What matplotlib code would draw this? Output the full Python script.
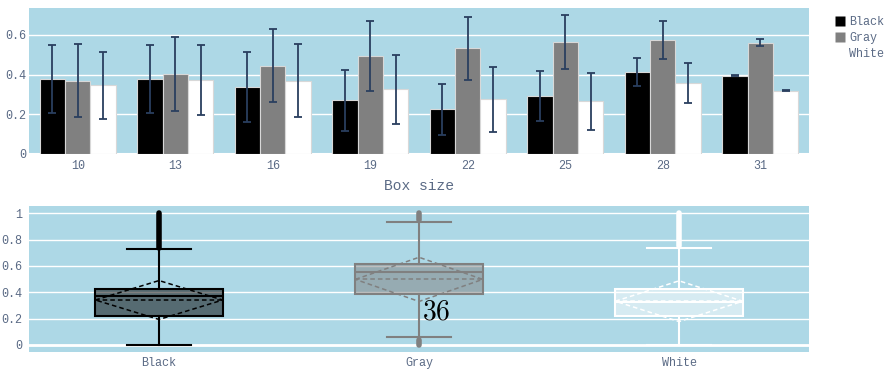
import matplotlib
matplotlib.use("Agg")
import matplotlib.pyplot as plt
from matplotlib.lines import Line2D
import numpy as np

plt.rcParams['font.family'] = ['Liberation Mono', 'DejaVu Sans']
plt.rcParams['mathtext.fontset'] = 'cm'

# mean score per box size (top panel)
box_sizes = ['10', '13', '16', '19', '22', '25', '28', '31']
black_mean = [0.378, 0.378, 0.336, 0.270, 0.225, 0.291, 0.413, 0.395]
gray_mean = [0.369, 0.403, 0.445, 0.492, 0.532, 0.564, 0.574, 0.561]
white_mean = [0.346, 0.373, 0.369, 0.326, 0.275, 0.265, 0.359, 0.319]
black_err = [0.172, 0.170, 0.175, 0.155, 0.127, 0.126, 0.070, 0.004]
gray_err = [0.184, 0.186, 0.184, 0.175, 0.160, 0.134, 0.095, 0.016]
white_err = [0.168, 0.178, 0.185, 0.174, 0.165, 0.145, 0.100, 0.003]

# distribution summary per colour (bottom panel)
colours = ['Black', 'Gray', 'White']
q1 = [0.220, 0.390, 0.220]
median = [0.370, 0.555, 0.327]
q3 = [0.426, 0.613, 0.428]
whisker_lo = [0.0, 0.063, 0.0]
whisker_hi = [0.729, 0.937, 0.739]
mean = [0.341, 0.498, 0.332]
sd = [0.148, 0.168, 0.155]
# ranges covered by the (dense) outlier points
outlier_ranges = [[(0.74, 1.0)], [(0.95, 1.0), (0.0, 0.04)], [(0.75, 1.0)]]

BG = '#add8e6'
TXT = '#5a6a85'
ERR = '#2a3f5f'
bar_colors = ['black', 'gray', 'white']

fig = plt.figure(figsize=(8.93, 3.70), dpi=100)
ax1 = fig.add_axes([0.0325, 0.5838, 0.8735, 0.3946])
ax2 = fig.add_axes([0.0325, 0.0495, 0.8735, 0.3937])

for ax in (ax1, ax2):
    ax.set_facecolor(BG)
    for s in ax.spines.values():
        s.set_visible(False)
    ax.tick_params(length=0, labelsize=8.5, labelcolor=TXT)
    ax.grid(axis='y', color='white', linewidth=1)
    ax.set_axisbelow(True)

# --- top: grouped bars with error bars
x = np.arange(len(box_sizes))
w = 0.26
series = [(black_mean, black_err), (gray_mean, gray_err), (white_mean, white_err)]
for i, (vals, errs) in enumerate(series):
    ax1.bar(x + (i - 1) * w, vals, w, color=bar_colors[i], edgecolor='#d8d8d8',
            linewidth=0.8, zorder=2)
    ax1.errorbar(x + (i - 1) * w, vals, yerr=errs, fmt='none', ecolor=ERR,
                 elinewidth=1.3, capsize=3, capthick=1.3, zorder=3)
ax1.set_xlim(-0.5, len(box_sizes) - 0.5)
ax1.set_ylim(0, 0.735)
ax1.set_xticks(x)
ax1.set_xticklabels(box_sizes)
ax1.set_yticks([0, 0.2, 0.4, 0.6])
ax1.set_yticklabels(['0', '0.2', '0.4', '0.6'])
ax1.tick_params(axis='x', pad=4)
ax1.tick_params(axis='y', pad=2)
ax1.axhline(0, color='white', linewidth=1.5, zorder=1)
fig.text(0.469, 1 - 186 / 370, 'Box size', ha='center', va='center',
         fontsize=10.5, color=TXT)

handles = [Line2D([], [], marker='s', linestyle='none', markersize=7,
                  markerfacecolor=c, markeredgecolor='none') for c in bar_colors]
fig.legend(handles, colours, loc='upper left', bbox_to_anchor=(0.922, 0.985),
           frameon=False, fontsize=8.5, labelcolor=TXT, handletextpad=0.3,
           labelspacing=0.35, handlelength=1.0)

# --- bottom: box plots with mean and sd diamond
bw = 0.49
for i, c in enumerate(bar_colors):
    stats = [dict(q1=q1[i], med=median[i], q3=q3[i], whislo=whisker_lo[i],
                  whishi=whisker_hi[i], fliers=[], mean=mean[i])]
    ax2.bxp(stats, positions=[i], widths=bw, patch_artist=True,
            showfliers=False, manage_ticks=False,
            boxprops=dict(facecolor=matplotlib.colors.to_rgba(c, 0.5),
                          edgecolor=c, linewidth=1.5),
            medianprops=dict(color=c, linewidth=1.5),
            whiskerprops=dict(color=c, linewidth=1.5),
            capprops=dict(color=c, linewidth=1.5), capwidths=bw / 2)
    m, s = mean[i], sd[i]
    ax2.plot([i - bw / 2, i, i + bw / 2, i, i - bw / 2], [m, m + s, m, m - s, m],
             color=c, linestyle=(0, (3, 2)), linewidth=1.1, zorder=4)
    ax2.plot([i - bw / 2, i + bw / 2], [m, m], color=c,
             linestyle=(0, (3, 2)), linewidth=1.1, zorder=4)
    for lo, hi in outlier_ranges[i]:
        ax2.plot([i, i], [lo, hi], color=c, linewidth=4, solid_capstyle='round',
                 zorder=4)

ax2.set_xlim(-0.5, 2.5)
ax2.set_ylim(-0.052, 1.056)
ax2.set_xticks(range(len(colours)))
ax2.set_xticklabels(colours)
ax2.set_yticks([0, 0.2, 0.4, 0.6, 0.8, 1])
ax2.set_yticklabels(['0', '0.2', '0.4', '0.6', '0.8', '1'])
ax2.tick_params(axis='x', pad=4)
ax2.tick_params(axis='y', pad=5)
ax2.axhline(0, color='white', linewidth=2, zorder=1)

fig.text(436 / 893, 1 - 312 / 370, r'$36$', ha='center', va='center',
         fontsize=20, color='black')

fig.savefig('out.png', dpi=100)
